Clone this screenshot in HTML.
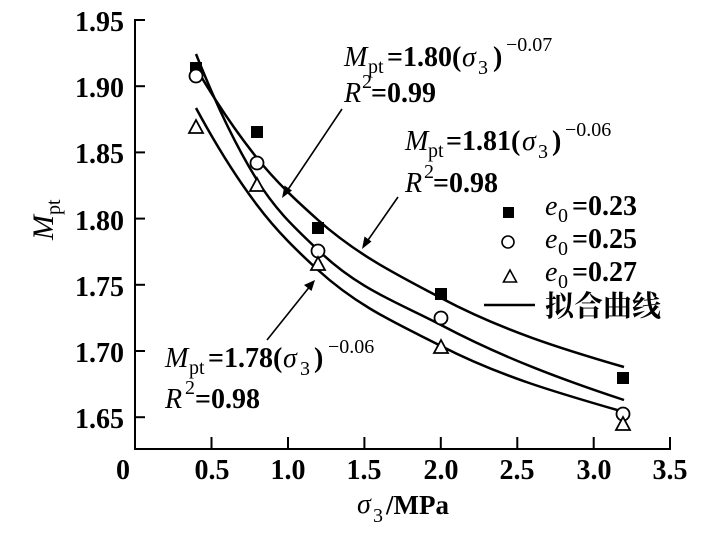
<!DOCTYPE html>
<html>
<head>
<meta charset="utf-8">
<style>
html,body{margin:0;padding:0;background:#fff;}
svg{display:block;}
text{font-family:"Liberation Serif","Noto Serif CJK SC",serif;fill:#000;}
.b{font-weight:bold;}
.i{font-style:italic;}
</style>
</head>
<body>
<svg width="713" height="539" viewBox="0 0 713 539" xmlns="http://www.w3.org/2000/svg">
<rect width="713" height="539" fill="#fff"/>
<!-- axes -->
<g stroke="#000" stroke-width="2" fill="none">
<line x1="135" y1="19" x2="135" y2="450"/>
<line x1="134" y1="449" x2="671" y2="449"/>
<!-- y ticks -->
<line x1="135" y1="20" x2="145" y2="20"/>
<line x1="135" y1="86.2" x2="145" y2="86.2"/>
<line x1="135" y1="152.4" x2="145" y2="152.4"/>
<line x1="135" y1="218.6" x2="145" y2="218.6"/>
<line x1="135" y1="284.8" x2="145" y2="284.8"/>
<line x1="135" y1="351" x2="145" y2="351"/>
<line x1="135" y1="417.2" x2="145" y2="417.2"/>
<!-- x ticks -->
<line x1="211.5" y1="449" x2="211.5" y2="437"/>
<line x1="288" y1="449" x2="288" y2="437"/>
<line x1="364.4" y1="449" x2="364.4" y2="437"/>
<line x1="440.8" y1="449" x2="440.8" y2="437"/>
<line x1="517.3" y1="449" x2="517.3" y2="437"/>
<line x1="593.7" y1="449" x2="593.7" y2="437"/>
<line x1="670" y1="449" x2="670" y2="437"/>
</g>
<!-- y tick labels -->
<g class="b" font-size="28" text-anchor="end">
<text x="124" y="31">1.95</text>
<text x="124" y="97">1.90</text>
<text x="124" y="163">1.85</text>
<text x="124" y="230">1.80</text>
<text x="124" y="296">1.75</text>
<text x="124" y="362">1.70</text>
<text x="124" y="428">1.65</text>
</g>
<!-- x tick labels -->
<g class="b" font-size="28" text-anchor="middle">
<text x="123" y="479">0</text>
<text x="212" y="479">0.5</text>
<text x="288" y="479">1.0</text>
<text x="364" y="479">1.5</text>
<text x="441" y="479">2.0</text>
<text x="517" y="479">2.5</text>
<text x="594" y="479">3.0</text>
<text x="670" y="479">3.5</text>
</g>
<!-- axis titles -->
<text class="i" x="357" y="513" font-size="28">σ</text>
<text x="373" y="522" font-size="20">3</text>
<text class="b" x="386" y="514" font-size="27">/MPa</text>
<text transform="translate(53,240) rotate(-90)" font-size="30"><tspan class="i">M</tspan><tspan font-size="20" dy="7">pt</tspan></text>

<!-- fitted curves -->
<g stroke="#000" stroke-width="2.5" fill="none">
<path d="M196,68 C216.3,102.6 236.7,132.7 257,158 C277.3,183.3 297.7,201.9 318,220 C359,256.4 400,276.2 441,298 C502,330.4 563,349.3 624,367"/>
<path d="M196,54 C216.3,105.3 236.7,147.3 257,180 C277.3,212.7 297.7,230.3 318,250 C359,289.8 400,303.3 441,325 C502,357.3 563,379.9 624,400"/>
<path d="M196,108 C216.3,145.7 236.7,178 257,205 C277.3,232 297.7,251.4 318,270 C359,307.6 400,324.9 441,346 C502,377.4 563,394.3 624,412"/>
</g>

<!-- markers: squares -->
<g fill="#000">
<rect x="190" y="62" width="12" height="12"/>
<rect x="251" y="126" width="12" height="12"/>
<rect x="312" y="222" width="12" height="12"/>
<rect x="435" y="288" width="12" height="12"/>
<rect x="617" y="372" width="12" height="12"/>
</g>
<!-- circles -->
<g fill="#fff" stroke="#000" stroke-width="1.8">
<circle cx="196" cy="76" r="6.5"/>
<circle cx="257" cy="163" r="6.5"/>
<circle cx="318" cy="251" r="6.5"/>
<circle cx="441" cy="318" r="6.5"/>
<circle cx="623" cy="414" r="6.5"/>
</g>
<!-- triangles -->
<g fill="#fff" stroke="#000" stroke-width="1.8" stroke-linejoin="miter">
<polygon points="196,120 189,133 203,133"/>
<polygon points="257,178 250,191 264,191"/>
<polygon points="318,257 311,270 325,270"/>
<polygon points="441,340 434,353 448,353"/>
<polygon points="623,417 616,430 630,430"/>
</g>

<!-- arrows -->
<g stroke="#000" stroke-width="1.6">
<line x1="342" y1="109" x2="287" y2="191"/>
<line x1="398" y1="197" x2="366" y2="243"/>
<line x1="267" y1="340" x2="311" y2="285"/>
</g>
<g fill="#000">
<polygon points="282,198 284.5,185.5 292,190.5"/>
<polygon points="362,249 364.5,236.5 371.5,241.5"/>
<polygon points="315,280 304,285 311.5,291"/>
</g>

<!-- annotation 1 -->
<text font-size="28">
<tspan class="i" x="344" y="66">M</tspan><tspan font-size="20" x="368" y="73">pt</tspan><tspan class="b" x="387" y="66">=1.80(</tspan><tspan class="i" x="462" y="66">σ</tspan><tspan font-size="20" x="478" y="74">3</tspan><tspan class="b" x="493" y="66">)</tspan><tspan font-size="20" x="506" y="51">−0.07</tspan>
</text>
<text font-size="28">
<tspan class="i" x="344" y="102">R</tspan><tspan font-size="20" x="362" y="88">2</tspan><tspan class="b" x="371" y="102">=0.99</tspan>
</text>
<!-- annotation 2 -->
<text font-size="28">
<tspan class="i" x="405" y="150">M</tspan><tspan font-size="20" x="428" y="157">pt</tspan><tspan class="b" x="446" y="150">=1.81(</tspan><tspan class="i" x="522" y="150">σ</tspan><tspan font-size="20" x="538" y="158">3</tspan><tspan class="b" x="552" y="150">)</tspan><tspan font-size="20" x="565" y="136">−0.06</tspan>
</text>
<text font-size="28">
<tspan class="i" x="405" y="192">R</tspan><tspan font-size="20" x="424" y="178">2</tspan><tspan class="b" x="433" y="192">=0.98</tspan>
</text>
<!-- annotation 3 -->
<text font-size="28">
<tspan class="i" x="165" y="367">M</tspan><tspan font-size="20" x="189" y="374">pt</tspan><tspan class="b" x="208" y="367">=1.78(</tspan><tspan class="i" x="283" y="367">σ</tspan><tspan font-size="20" x="300" y="375">3</tspan><tspan class="b" x="314" y="367">)</tspan><tspan font-size="20" x="328" y="353">−0.06</tspan>
</text>
<text font-size="28">
<tspan class="i" x="165" y="408">R</tspan><tspan font-size="20" x="185" y="394">2</tspan><tspan class="b" x="195" y="408">=0.98</tspan>
</text>

<!-- legend -->
<rect x="503" y="207" width="11" height="11" fill="#000"/>
<circle cx="508" cy="242" r="6" fill="#fff" stroke="#000" stroke-width="1.6"/>
<polygon points="510,270 503.5,282 516.5,282" fill="#fff" stroke="#000" stroke-width="1.6"/>
<line x1="484" y1="305" x2="535" y2="305" stroke="#000" stroke-width="2.5"/>
<text font-size="28">
<tspan class="i" x="545" y="215">e</tspan><tspan font-size="20" x="558" y="222">0</tspan><tspan class="b" x="572" y="215">=0.23</tspan>
</text>
<text font-size="28">
<tspan class="i" x="545" y="248">e</tspan><tspan font-size="20" x="558" y="255">0</tspan><tspan class="b" x="572" y="248">=0.25</tspan>
</text>
<text font-size="28">
<tspan class="i" x="545" y="281">e</tspan><tspan font-size="20" x="558" y="288">0</tspan><tspan class="b" x="572" y="281">=0.27</tspan>
</text>
<text x="545" y="316" font-size="29" style="font-family:'Liberation Serif','Noto Serif CJK SC',serif;font-weight:bold;">拟合曲线</text>
</svg>
</body>
</html>
